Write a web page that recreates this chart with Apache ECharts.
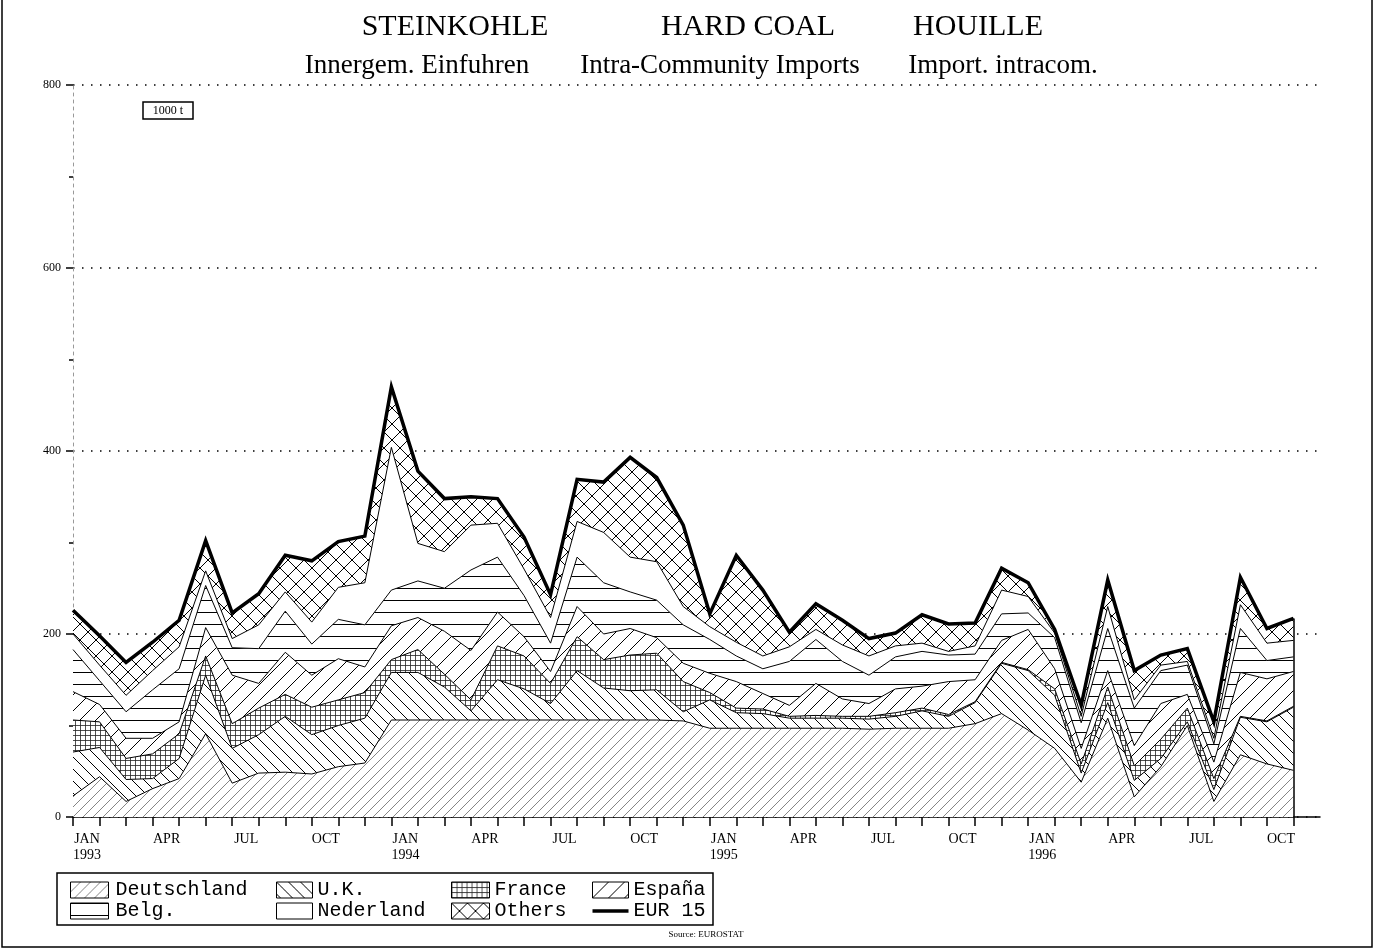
<!DOCTYPE html>
<html>
<head>
<meta charset="utf-8">
<title>Steinkohle - Hard coal - Houille</title>
<script src="https://cdn.jsdelivr.net/npm/echarts@6/dist/echarts.min.js"></script>
<style>
    html, body { margin: 0; padding: 0; background: #fff; }
    #chart { width: 1377px; height: 950px; }
</style>
</head>
<body>
<div id="chart"></div>
<script>
// monthly intra-community imports of hard coal, 1000 t, Jan 1993 - Nov 1996
const months = ['JAN', 'FEB', 'MAR', 'APR', 'MAY', 'JUN', 'JUL', 'AUG', 'SEP', 'OCT', 'NOV', 'DEC'];
const years = [1993, 1994, 1995, 1996];
const yTicks = [0, 200, 400, 600, 800];

const deutschland = [23, 44, 17, 31, 42, 91, 37, 48, 49, 47, 55, 59, 106, 106, 106, 106, 106, 106, 106, 106, 106, 106, 106, 105, 97, 97, 97, 97, 97, 97, 96, 97, 97, 97, 102, 113, 95, 75, 38, 108, 22, 55, 100, 17, 68, 58, 51];
const uk = [48, 32, 24, 11, 22, 64, 38, 42, 61, 43, 45, 49, 52, 52, 36, 10, 44, 34, 18, 54, 35, 32, 33, 10, 31, 17, 16, 11, 11, 11, 11, 13, 19, 13, 23, 55, 65, 58, 10, 17, 18, 9, 4, 13, 41, 46, 69];
const france = [35, 28, 23, 27, 27, 21, 27, 29, 24, 30, 28, 28, 14, 25, 14, 12, 37, 36, 22, 37, 31, 39, 40, 33, 8, 5, 5, 2, 3, 2, 3, 4, 3, 2, 1, 1, 1, 7, 10, 17, 16, 21, 15, 12, 1, 1, 1];
const espana = [31, 19, 22, 17, 13, 31, 53, 27, 46, 35, 45, 28, 37, 35, 47, 54, 37, 21, 13, 33, 28, 29, 17, 20, 21, 29, 17, 12, 35, 19, 14, 26, 24, 36, 24, 24, 44, 22, 17, 18, 22, 39, 15, 18, 48, 46, 38];
const belg = [46, 26, 29, 53, 58, 46, 30, 38, 45, 34, 43, 46, 39, 40, 47, 88, 60, 45, 31, 54, 56, 40, 41, 42, 37, 28, 27, 48, 48, 41, 31, 35, 38, 29, 28, 29, 18, 34, 28, 46, 41, 36, 32, 20, 48, 20, 16];
const nederland = [17, 17, 18, 21, 24, 16, 10, 26, 21, 24, 35, 46, 156, 41, 40, 49, 37, 29, 28, 39, 55, 38, 42, 20, 14, 15, 14, 16, 11, 18, 21, 12, 9, 4, 9, 26, 18, 5, 7, 24, 9, 6, 4, 6, 26, 19, 18];
const others = [26, 32, 36, 31, 29, 33, 28, 34, 40, 67, 50, 51, 66, 79, 58, 31, 27, 35, 25, 46, 55, 109, 92, 89, 14, 95, 72, 16, 28, 27, 19, 14, 31, 30, 25, 24, 15, 4, 12, 29, 32, 11, 14, 18, 30, 16, 24];
const eur15 = [226, 198, 169, 191, 215, 302, 223, 244, 286, 280, 301, 307, 470, 378, 348, 350, 348, 306, 243, 369, 366, 393, 371, 319, 222, 286, 248, 202, 233, 215, 195, 201, 221, 211, 212, 272, 256, 205, 122, 259, 160, 177, 184, 104, 262, 206, 217];

// one slot per month; the last one (Dec 96) is empty and only extends the axis
let categories = [];
years.forEach(y => months.forEach(m => categories.push(m + (m === 'JAN' ? '\n' + y : ''))));
let last = eur15.length - 1;

// hatch fills, black lines on white
let pattern = (size, draw) => {
    let c = document.createElement('canvas');
    c.width = size;
    c.height = size;
    let g = c.getContext('2d');
    g.fillStyle = '#fff';
    g.fillRect(0, 0, size, size);
    g.strokeStyle = '#000';
    g.lineWidth = 1;
    if (draw) {
        draw(g, size);
    }
    return {image: c, repeat: 'repeat'};
};
let slash = (g, s) => {
    g.beginPath();
    g.moveTo(0, s); g.lineTo(s, 0);
    g.moveTo(-1, 1); g.lineTo(1, -1);
    g.moveTo(s - 1, s + 1); g.lineTo(s + 1, s - 1);
    g.stroke();
};
let backslash = (g, s) => {
    g.beginPath();
    g.moveTo(0, 0); g.lineTo(s, s);
    g.moveTo(-1, s - 1); g.lineTo(1, s + 1);
    g.moveTo(s - 1, -1); g.lineTo(s + 1, 1);
    g.stroke();
};

let fills = {
    'Deutschland': pattern(10, (g, s) => { g.strokeStyle = '#666'; g.lineWidth = 0.8; slash(g, s); }),
    'U.K.': pattern(12, backslash),
    'France': pattern(5, (g, s) => {
        g.strokeStyle = '#222';
        g.lineWidth = 0.8;
        g.beginPath();
        g.moveTo(0, 0.5); g.lineTo(s, 0.5);
        g.moveTo(0.5, 0); g.lineTo(0.5, s);
        g.stroke();
    }),
    'España': pattern(16, slash),
    'Belg.': pattern(12, (g, s) => {
        g.beginPath();
        g.moveTo(0, 0.5); g.lineTo(s, 0.5);
        g.stroke();
    }),
    'Nederland': pattern(8),
    'Others': pattern(16, (g, s) => { slash(g, s); backslash(g, s); })
};

let layers = [
    ['Deutschland', deutschland],
    ['U.K.', uk],
    ['France', france],
    ['España', espana],
    ['Belg.', belg],
    ['Nederland', nederland],
    ['Others', others]
];

let series = layers.map(([name, values]) => ({
    name: name,
    type: 'line',
    stack: 'total',
    data: values,
    symbol: 'none',
    silent: true,
    lineStyle: {color: '#000', width: 1},
    itemStyle: {color: fills[name]},
    areaStyle: {color: fills[name], opacity: 1}
}));
series.push({
    name: 'EUR 15',
    type: 'line',
    data: eur15,
    symbol: 'none',
    silent: true,
    z: 5,
    lineStyle: {color: '#000', width: 3.5, join: 'miter'},
    itemStyle: {color: '#000'},
    // closing edge of the stacked areas at the last month
    markLine: {
        silent: true,
        symbol: 'none',
        label: {show: false},
        lineStyle: {color: '#000', width: 1.5, type: 'solid'},
        data: [[{coord: [last, 0]}, {coord: [last, eur15[last]]}]]
    }
});

let swatch = name => ({
    name: name,
    icon: 'rect',
    itemStyle: {color: fills[name], borderColor: '#000', borderWidth: 1}
});
let legendColumn = (left, width, pad, items) => ({
    orient: 'vertical',
    left: left,
    top: 875,
    itemWidth: width,
    itemHeight: 16,
    itemGap: 1,
    selectedMode: false,
    textStyle: {fontFamily: 'Liberation Mono', fontSize: 20, lineHeight: 20, color: '#000', padding: [0, 0, 0, pad]},
    data: items
});
let eurItem = {name: 'EUR 15', icon: 'path://M0,0L40,0L40,4L0,4Z', itemStyle: {color: '#000', borderWidth: 0}};

let serif = '"Liberation Serif", "DejaVu Serif", serif';
let label = (x, y, text, size) => ({
    type: 'text',
    x: x,
    y: y,
    style: {text: text, fontFamily: serif, fontSize: size, fill: '#000', align: 'center', verticalAlign: 'middle',
        textAlign: 'center', textVerticalAlign: 'middle'}
});

let option = {
    animation: false,
    backgroundColor: '#fff',
    grid: {left: 73, right: 57, top: 85, bottom: 133, containLabel: false, outerBoundsMode: 'none'},
    legend: [
        legendColumn(65, 38, 2, [swatch('Deutschland'), swatch('Belg.')]),
        legendColumn(271, 36, 0, [swatch('U.K.'), swatch('Nederland')]),
        legendColumn(446, 38, 0, [swatch('France'), swatch('Others')]),
        legendColumn(587, 36, 0, [swatch('España'), eurItem])
    ],
    xAxis: {
        type: 'category',
        data: categories,
        boundaryGap: false,
        axisLine: {lineStyle: {color: '#000', width: 1.5}},
        axisTick: {
            length: 9,
            lineStyle: {color: '#000', width: 1.5},
            interval: index => index <= last
        },
        axisLabel: {
            interval: index => index % 3 === 0 && index < last,
            fontFamily: serif,
            fontSize: 14,
            lineHeight: 16,
            color: '#000',
            margin: 14,
            padding: [0, 0, 0, 28]
        },
        splitLine: {show: false}
    },
    yAxis: {
        type: 'value',
        min: yTicks[0],
        max: yTicks[yTicks.length - 1],
        interval: yTicks[1] - yTicks[0],
        axisLine: {show: true, lineStyle: {color: '#999', width: 1, type: [3, 4]}},
        axisTick: {show: true, length: 7, lineStyle: {color: '#000', width: 1.5}},
        minorTick: {show: true, splitNumber: 2, length: 4, lineStyle: {color: '#000', width: 1.5}},
        axisLabel: {fontFamily: serif, fontSize: 12, color: '#000', margin: 12},
        splitLine: {lineStyle: {color: '#000', width: 1.5, type: [1.5, 7.5]}}
    },
    series: series,
    graphic: [
        label(455, 27, 'STEINKOHLE', 30),
        label(748, 27, 'HARD COAL', 30),
        label(978, 27, 'HOUILLE', 30),
        label(417, 66, 'Innergem. Einfuhren', 27),
        label(720, 66, 'Intra-Community Imports', 27),
        label(1003, 66, 'Import. intracom.', 27),
        {
            type: 'rect',
            shape: {x: 143, y: 102, width: 50, height: 17},
            style: {fill: '#fff', stroke: '#000', lineWidth: 1.5}
        },
        label(168, 111, '1000 t', 12),
        {
            type: 'rect',
            shape: {x: 57, y: 873, width: 656, height: 52},
            style: {fill: 'none', stroke: '#000', lineWidth: 1.5}
        },
        label(706, 935, 'Source: EUROSTAT', 9),
        {
            type: 'polyline',
            shape: {points: [[2, 0], [2, 947], [1372, 947], [1372, 0]]},
            style: {fill: 'none', stroke: '#000', lineWidth: 1.5}
        }
    ]
};

let chart = echarts.init(document.getElementById('chart'));
chart.setOption(option);
</script>
</body>
</html>
